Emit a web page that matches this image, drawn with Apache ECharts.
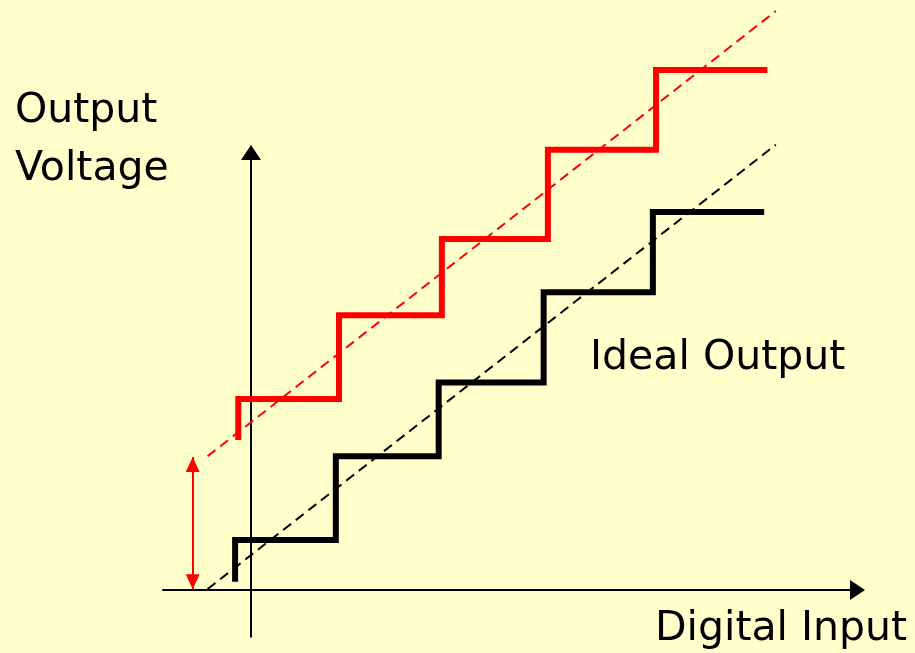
<!DOCTYPE html>
<html>
<head>
<meta charset="utf-8">
<script src="https://cdn.jsdelivr.net/npm/echarts@6/dist/echarts.min.js"></script>
<style>
  html, body { margin: 0; padding: 0; background: #FFFFCC; }
  #chart { width: 915px; height: 653px; }
</style>
</head>
<body>
<div id="chart"></div>
<script>
// ideal DAC transfer curve (black)
var idealRisers = [-0.15, 0.80, 1.77, 2.76, 3.79];
var idealLevels = [0.61, 1.63, 2.53, 3.63, 4.61];
var idealStart = 0.10;
var idealEnd = 4.84;

// curve with offset error (red)
var offsetRisers = [-0.12, 0.83, 1.80, 2.80, 3.82];
var offsetLevels = [2.33, 3.35, 4.28, 5.37, 6.34];
var offsetStart = 1.83;
var offsetEnd = 4.87;

// straight reference lines through the steps
var idealLine = [[-0.41, 0.01], [4.95, 5.43]];
var offsetLine = [[-0.41, 1.63], [4.95, 7.06]];

// offset arrow
var offsetArrow = [[-0.55, 0.01], [-0.55, 1.62]];

var axisX = [-0.83, 5.72];
var axisY = [-0.57, 5.335];

function stairPoints(start, risers, levels, end) {
    var pts = [[risers[0], start]];
    for (var i = 0; i < risers.length; i++) {
        pts.push([risers[i], levels[i]]);
        var next = (i + 1 < risers.length) ? risers[i + 1] : end;
        pts.push([next, levels[i]]);
    }
    return pts;
}

var font = '41px "DejaVu Sans", sans-serif';

var myChart = echarts.init(document.getElementById('chart'));

var option = {
    backgroundColor: '#FFFFCC',
    animation: false,
    grid: { left: 163, right: 57.5, top: 152.5, bottom: 16.3 },
    xAxis: {
        type: 'value',
        min: axisX[0],
        max: axisX[1],
        axisLine: {
            onZero: true,
            symbol: ['none', 'triangle'],
            symbolSize: [20, 15],
            lineStyle: { color: '#000', width: 2 }
        },
        axisTick: { show: false },
        axisLabel: { show: false },
        splitLine: { show: false }
    },
    yAxis: {
        type: 'value',
        min: axisY[0],
        max: axisY[1],
        axisLine: {
            onZero: true,
            symbol: ['none', 'triangle'],
            symbolSize: [20, 15],
            lineStyle: { color: '#000', width: 2 }
        },
        axisTick: { show: false },
        axisLabel: { show: false },
        splitLine: { show: false }
    },
    series: [
        {
            type: 'line',
            data: idealLine,
            clip: false,
            symbol: 'none',
            lineStyle: { color: '#000', width: 2, type: [10, 6] }
        },
        {
            type: 'line',
            data: offsetLine,
            clip: false,
            symbol: 'none',
            lineStyle: { color: '#FF0000', width: 2, type: [10, 6] }
        },
        {
            type: 'line',
            data: stairPoints(idealStart, idealRisers, idealLevels, idealEnd),
            clip: false,
            symbol: 'none',
            lineStyle: { color: '#000', width: 6, join: 'miter', cap: 'butt' }
        },
        {
            type: 'line',
            data: stairPoints(offsetStart, offsetRisers, offsetLevels, offsetEnd),
            clip: false,
            symbol: 'none',
            lineStyle: { color: '#FF0000', width: 6, join: 'miter', cap: 'butt' },
            markLine: {
                silent: true,
                symbol: ['triangle', 'triangle'],
                symbolSize: [14, 15],
                symbolOffset: [[0, 7.5], [0, 7.5]],
                label: { show: false },
                lineStyle: { color: '#FF0000', width: 2, type: 'solid' },
                data: [[{ coord: offsetArrow[0] }, { coord: offsetArrow[1] }]]
            }
        }
    ],
    graphic: [
        { type: 'text', left: 15, top: 91, style: { text: 'Output', font: font, fill: '#000' } },
        { type: 'text', left: 15, top: 149, style: { text: 'Voltage', font: font, fill: '#000' } },
        { type: 'text', left: 590, top: 338, style: { text: 'Ideal Output', font: font, fill: '#000' } },
        { type: 'text', left: 655, top: 609, style: { text: 'Digital Input', font: font, fill: '#000' } }
    ]
};

myChart.setOption(option);
</script>
</body>
</html>
